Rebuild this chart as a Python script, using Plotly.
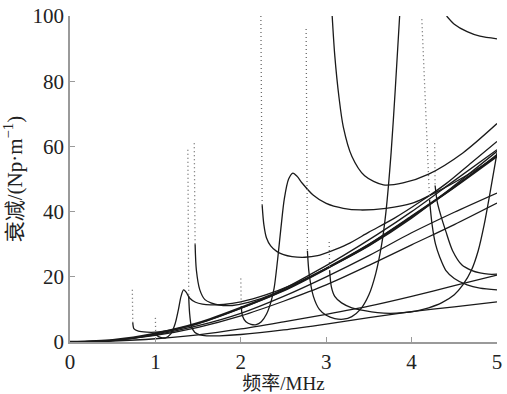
import plotly.graph_objects as go

# ---------------- data ----------------
# curves starting at the origin
f_base = [0, 0.5, 1, 1.5, 2, 2.5, 3, 3.5, 4, 4.5, 5]
a_thick = [0, 0.6, 2.6, 5.8, 10.5, 15.8, 22.5, 29.8, 38.5, 47.5, 57]
a_low1 = [0, 0.5, 2.2, 5, 8.8, 14, 20, 26.5, 33.5, 39.8, 45.7]
a_low2 = [0, 0.5, 2, 4.5, 8, 12.5, 17.5, 23.5, 29.8, 36, 42.6]
a_low3 = [0, 0.3, 1, 2.2, 4, 6.2, 8.5, 11, 14, 17.3, 20.5]

# mode with cutoff spike near 0.73 MHz
fA_dot = [0.73, 0.735]
aA_dot = [16, 6]
fA = [0.735, 0.75, 0.8, 0.9, 1.0, 1.1, 1.25, 1.5, 2, 2.5, 3, 3.5, 4, 4.5, 5]
aA = [6, 4, 3.3, 3.0, 3.0, 3.3, 4.0, 5.6, 10.3, 15.8, 22.5, 30, 38.5, 47.5, 57.5]

# spike near 1.0 MHz -> peak at 1.33 MHz
fB_dot = [1.0, 1.003]
aB_dot = [7.4, 3]
fB = [1.003, 1.02, 1.06, 1.12, 1.18, 1.23, 1.27, 1.3, 1.33, 1.36, 1.4, 1.47, 1.55,
      1.65, 1.8, 2.0, 2.3, 2.6, 3, 3.5, 4, 4.5, 5]
aB = [3, 2, 1.4, 1.3, 2.5, 5.5, 10, 14, 16, 15.3, 13.5, 12.2, 11.6,
      11.4, 11.5, 12.3, 14.5, 17.5, 22.5, 29.5, 38, 48, 58.5]

# spike near 1.38 MHz
fC_dot = [1.38, 1.385, 1.39]
aC_dot = [59, 30, 14]
fC = [1.39, 1.4, 1.42, 1.46, 1.52, 1.6, 1.75, 2, 2.5, 3, 3.5, 4, 4.5, 5]
aC = [14, 9, 5, 3, 2.2, 1.9, 1.9, 2.3, 3.7, 5.5, 7.5, 9.3, 10.8, 12.3]

# spike near 1.46 MHz
fD_dot = [1.455, 1.46, 1.465]
aD_dot = [61, 45, 30]
fD = [1.465, 1.48, 1.52, 1.58, 1.65, 1.75, 1.9, 2.1, 2.4, 2.8, 3.2, 3.6, 4, 4.5, 5]
aD = [30, 22, 16, 13, 12, 11.3, 11.2, 12.2, 15, 20.5, 26.5, 33, 40, 49.5, 59]

# spike near 2.0 MHz -> peak at 2.6 MHz
fE_dot = [2.0, 2.005]
aE_dot = [19.5, 11]
fE = [2.005, 2.02, 2.06, 2.12, 2.18, 2.24, 2.3, 2.35, 2.39, 2.43, 2.47, 2.51, 2.56,
      2.61, 2.66, 2.72, 2.85, 3.0, 3.2, 3.4, 3.7, 4.0, 4.4, 4.7, 5]
aE = [11, 8, 6.2, 5.4, 5.3, 6.2, 8.5, 12, 16.5, 25, 35, 44, 50,
      51.8, 50.8, 48.7, 45, 42.5, 41, 40.5, 41, 42.5, 47.5, 52, 57]

# spike near 2.24 MHz
fF_dot = [2.235, 2.24, 2.25]
aF_dot = [100, 70, 42]
fF = [2.25, 2.27, 2.3, 2.35, 2.42, 2.5, 2.6, 2.75, 2.9, 3.05, 3.25, 3.5, 3.8, 4.1,
      4.4, 4.7, 5]
aF = [42, 36, 32, 29.5, 27.8, 26.8, 26.2, 26, 26.5, 27.8, 30, 33.7, 38, 43,
      48.5, 55, 61.5]

# spike near 2.77 MHz -> steep rise near 3.8 MHz
fG_dot = [2.765, 2.77, 2.775, 2.78]
aG_dot = [96, 60, 40, 28]
fG = [2.78, 2.8, 2.85, 2.92, 3.0, 3.1, 3.2, 3.3, 3.4, 3.5, 3.58, 3.65, 3.7, 3.76,
      3.81, 3.86]
aG = [28, 21, 14, 10, 8.2, 7.2, 7, 7.8, 10, 14.5, 21, 30, 40, 58, 78, 100]

# spike near 3.04 MHz -> steep rise near 5 MHz
fH_dot = [3.035, 3.04]
aH_dot = [30.7, 22]
fH = [3.04, 3.06, 3.1, 3.18, 3.3, 3.45, 3.6, 3.75, 3.9, 4.05, 4.2, 4.35, 4.5, 4.6,
      4.7, 4.78, 4.85, 4.92, 5]
aH = [22, 17, 14, 12, 10.5, 9.6, 9, 8.8, 9, 9.5, 10.5, 12, 14.5, 17.5,
      22, 28, 36, 46, 58]

# U-shaped curve from 3.07 MHz
fI = [3.07, 3.1, 3.15, 3.2, 3.3, 3.45, 3.67, 3.9, 4.2, 4.6, 5]
aI = [100, 88, 75, 66, 57, 51, 48.2, 48.8, 51.5, 58, 67]

# spike near 4.15 MHz
fJ_dot = [4.12, 4.15, 4.18, 4.21]
aJ_dot = [99, 80, 60, 43.6]
fJ = [4.21, 4.24, 4.28, 4.33, 4.4, 4.5, 4.65, 4.8, 5]
aJ = [43.6, 36, 30, 26, 22, 19.5, 17.5, 16.5, 16]

# spike near 4.27 MHz
fK_dot = [4.27, 4.275]
aK_dot = [61, 48]
fK = [4.275, 4.3, 4.34, 4.4, 4.48, 4.59, 4.7, 4.8, 4.9, 5]
aK = [48, 43, 39, 34, 28, 23.6, 22, 21.2, 20.8, 20.8]

# top-right curve
fL = [4.41, 4.5, 4.65, 4.8, 5]
aL = [100, 97.5, 95.2, 93.8, 93]

x_ticks = [0, 1, 2, 3, 4, 5]
y_ticks = [0, 20, 40, 60, 80, 100]

# ---------------- figure ----------------
LINE = "#1a1a1a"
DOT = "#6a6a6a"
fig = go.Figure()


def solid(x, y, w=1.3):
    fig.add_trace(go.Scatter(x=x, y=y, mode="lines",
                             line=dict(color=LINE, width=w, shape="spline", smoothing=0.8),
                             hoverinfo="skip", showlegend=False))


def dotted(x, y):
    fig.add_trace(go.Scatter(x=x, y=y, mode="lines",
                             line=dict(color=DOT, width=1.3, dash="1px,3px"),
                             hoverinfo="skip", showlegend=False))


for ys in (a_low1, a_low2, a_low3):
    solid(f_base, ys)
solid(f_base, a_thick, 2.3)

for fd, ad, fs, as_ in [
    (fA_dot, aA_dot, fA, aA),
    (fB_dot, aB_dot, fB, aB),
    (fC_dot, aC_dot, fC, aC),
    (fD_dot, aD_dot, fD, aD),
    (fE_dot, aE_dot, fE, aE),
    (fF_dot, aF_dot, fF, aF),
    (fG_dot, aG_dot, fG, aG),
    (fH_dot, aH_dot, fH, aH),
    (fJ_dot, aJ_dot, fJ, aJ),
    (fK_dot, aK_dot, fK, aK),
]:
    dotted(fd, ad)
    solid(fs, as_)

solid(fI, aI)
solid(fL, aL)

font_num = dict(family="Liberation Serif, DejaVu Serif, serif", size=21, color="#222")
font_xt = dict(family="Liberation Serif, Noto Sans CJK SC, serif", size=19, color="#222")
font_yt = dict(family="Liberation Serif, Noto Sans CJK SC, serif", size=21, color="#222")

fig.update_layout(
    width=507, height=394,
    margin=dict(l=70, r=10, t=16, b=52),
    paper_bgcolor="white", plot_bgcolor="white",
    xaxis=dict(range=[0, 5], tickvals=x_ticks, ticktext=[str(v) for v in x_ticks],
               automargin=False, ticklabeloverflow="allow",
               showline=True, linecolor="#9a9a9a", linewidth=1.5,
               ticks="inside", ticklen=5, tickcolor="#9a9a9a", tickwidth=1.2,
               showgrid=False, zeroline=False, tickfont=font_num,
               title=dict(text="频率/MHz", font=font_xt, standoff=2)),
    yaxis=dict(range=[0, 100], tickvals=y_ticks, ticktext=[str(v) for v in y_ticks],
               automargin=False, ticklabeloverflow="allow",
               showline=True, linecolor="#9a9a9a", linewidth=1.5,
               ticks="inside", ticklen=5, tickcolor="#9a9a9a", tickwidth=1.2,
               showgrid=False, zeroline=False, tickfont=font_num,
               title=dict(text="衰减/(Np·m<sup>−1</sup>)", font=font_yt, standoff=6)),
)

# remove the browser's default body margin so the figure fills the window exactly
fig.write_html("out.html", config={"displayModeBar": False},
               post_script="document.body.style.margin='0';")
